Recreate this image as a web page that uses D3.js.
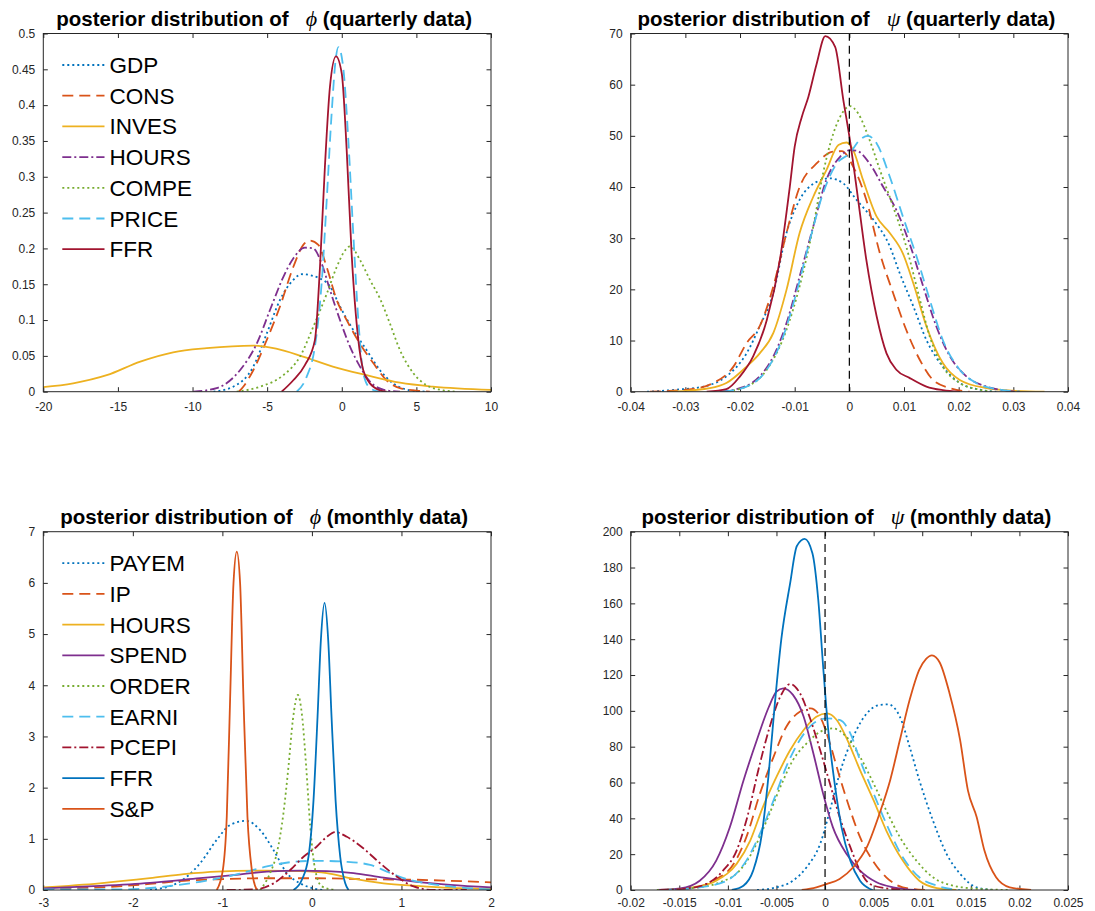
<!DOCTYPE html>
<html>
<head>
<meta charset="utf-8">
<script src="https://cdn.jsdelivr.net/npm/d3@7"></script>
<style>
  html, body { margin: 0; padding: 0; background: #fff; }
  svg { display: block; }
</style>
</head>
<body>
<div id="chart"></div>
<script>
// ---------- posterior densities, phi, quarterly data ----------
const phiQ_GDP = [[-8.6,0],[-7.27,0.007],[-5.93,0.035],[-5.03,0.081],[-4.14,0.128],[-3.25,0.156],[-2.69,0.164],[-1.46,0.158],[-0.79,0.147],[-0.12,0.119],[0.77,0.086],[1.67,0.058],[2.56,0.03],[3.45,0.0116],[4.57,0.002],[5.7,0]];
const phiQ_CONS = [[-6.9,0],[-6.6,0.007],[-5.93,0.03],[-5.03,0.072],[-4.14,0.119],[-3.25,0.174],[-2.58,0.205],[-2.13,0.211],[-1.57,0.205],[-1.01,0.174],[-0.34,0.128],[0.33,0.1],[1.22,0.067],[2.11,0.04],[3.0,0.016],[3.9,0.005],[5.2,0.001],[5.9,0]];
const phiQ_INVES = [[-20.2,0.006],[-18.0,0.0117],[-15.75,0.023],[-13.5,0.042],[-11.3,0.055],[-9.05,0.0607],[-5.9,0.0643],[-4.4,0.06],[-2.6,0.049],[-0.6,0.035],[1.67,0.023],[3.9,0.0126],[6.1,0.007],[10.2,0.0023]];
const phiQ_HOURS = [[-9.95,0],[-8.39,0.005],[-6.82,0.03],[-5.7,0.067],[-4.81,0.114],[-3.92,0.16],[-3.25,0.186],[-2.47,0.201],[-1.91,0.2],[-1.35,0.179],[-0.79,0.142],[-0.12,0.1],[0.55,0.063],[1.22,0.035],[1.89,0.014],[2.78,0.003],[3.9,0]];
const phiQ_COMPE = [[-7.04,0],[-5.48,0.007],[-3.92,0.023],[-2.8,0.049],[-1.9,0.091],[-1.0,0.137],[-0.34,0.174],[0.25,0.198],[0.55,0.203],[1.22,0.184],[1.89,0.156],[2.56,0.13],[3.23,0.095],[3.9,0.058],[4.79,0.026],[5.69,0.009],[6.8,0.002],[7.7,0]];
const phiQ_PRICE = [[-3.02,0],[-2.35,0.021],[-1.8,0.063],[-1.35,0.151],[-1.01,0.267],[-0.68,0.388],[-0.4,0.465],[-0.23,0.481],[0.1,0.452],[0.44,0.351],[0.77,0.221],[1.11,0.1],[1.44,0.026],[1.89,0.005],[2.56,0]];
const phiQ_FFR = [[-4.03,0],[-3.25,0.016],[-2.47,0.037],[-1.8,0.072],[-1.46,0.174],[-1.13,0.314],[-0.79,0.426],[-0.39,0.468],[0.0,0.444],[0.33,0.337],[0.66,0.193],[1.11,0.072],[1.44,0.03],[1.89,0.0116],[2.56,0.002],[3.0,0]];

// ---------- posterior densities, psi, quarterly data ----------
const psiQ_GDP = [[-0.037,0],[-0.0316,0.4],[-0.0267,1],[-0.0225,3],[-0.0188,7.5],[-0.0164,12.8],[-0.0139,19.3],[-0.0115,31],[-0.0091,37.5],[-0.006,41],[-0.0036,41.7],[-0.0011,40.7],[0.0013,37.5],[0.0044,33.6],[0.0074,28.4],[0.0092,23.2],[0.0117,16.7],[0.0141,10.1],[0.0171,4.9],[0.0202,1.7],[0.0238,0.4],[0.0269,0]];
const psiQ_CONS = [[-0.0365,0],[-0.0297,0.4],[-0.0249,1.7],[-0.0212,4.9],[-0.0188,9.5],[-0.0164,12.8],[-0.0139,20.6],[-0.0115,31],[-0.0091,40],[-0.006,44.6],[-0.003,46.9],[-0.0014,47],[0.0007,44],[0.0031,37.5],[0.0056,27],[0.008,19.3],[0.0104,12.1],[0.0129,6.2],[0.0153,2.3],[0.0184,0.7],[0.022,0]];
const psiQ_INVES = [[-0.0328,0],[-0.0255,0.7],[-0.0225,1.7],[-0.0188,4.9],[-0.0164,7.5],[-0.0139,11.5],[-0.0115,19.9],[-0.0091,31],[-0.0066,38.1],[-0.0042,43.3],[-0.002,48.2],[-0.0005,48.7],[0.0007,47.2],[0.0025,41.4],[0.005,34.2],[0.0074,31],[0.0098,27],[0.0117,21.2],[0.0141,12.8],[0.0171,5.6],[0.0202,2.3],[0.0251,0.7],[0.03,0.2],[0.0357,0]];
const psiQ_HOURS = [[-0.0237,0],[-0.02,0.7],[-0.0164,3],[-0.0139,6.9],[-0.0115,13.4],[-0.0091,22.5],[-0.0066,32.3],[-0.0042,41.4],[-0.0017,45.9],[0.0001,47.2],[0.0013,47.1],[0.0037,44.6],[0.0062,40],[0.0086,35.5],[0.011,29],[0.0135,20.6],[0.0159,12.8],[0.0184,6.9],[0.0214,3],[0.0251,1],[0.0281,0.3],[0.0312,0]];
const psiQ_COMPE = [[-0.0231,0],[-0.0188,1],[-0.0151,4.3],[-0.0115,12.1],[-0.0091,20.6],[-0.0066,32.3],[-0.0048,42.7],[-0.0033,49.2],[-0.0017,53.7],[0.0001,55.8],[0.0016,54.4],[0.0037,49.2],[0.0056,43.3],[0.008,36.2],[0.0104,28.4],[0.0129,18],[0.0147,10.8],[0.0171,4.9],[0.0202,1.7],[0.0238,0.4],[0.0263,0]];
const psiQ_PRICE = [[-0.0231,0],[-0.0188,1],[-0.0151,4.3],[-0.0121,10.8],[-0.0097,19.3],[-0.0072,29.7],[-0.0048,38.8],[-0.0023,44.6],[0.0001,46.6],[0.0019,49.2],[0.0034,50],[0.005,48.5],[0.0074,42],[0.0098,34.2],[0.0123,26.4],[0.0147,18],[0.0171,10.1],[0.0202,4.3],[0.0232,1.7],[0.0275,0.4],[0.0312,0]];
const psiQ_FFR = [[-0.0261,0],[-0.0225,0.5],[-0.02,3],[-0.0176,6.9],[-0.0151,14],[-0.0127,25.8],[-0.0109,40],[-0.01,47.9],[-0.0087,53.7],[-0.0075,57.6],[-0.006,64],[-0.0044,69.5],[-0.0026,67.4],[-0.0011,57],[0.0001,49.2],[0.0013,40],[0.0031,25.8],[0.005,14.7],[0.0068,7.5],[0.0086,4.3],[0.011,2.7],[0.0141,1],[0.0171,0.3],[0.0202,0]];

// ---------- posterior densities, phi, monthly data ----------
const phiM_PAYEM = [[-1.808,0],[-1.51,0.13],[-1.25,0.52],[-1.063,0.98],[-0.914,1.27],[-0.734,1.35],[-0.578,1.17],[-0.429,0.78],[-0.28,0.33],[-0.131,0.13],[0.018,0.03],[0.13,0]];
const phiM_IP = [[-3,0.03],[-2.37,0.05],[-1.81,0.12],[-1.43,0.18],[-1.063,0.21],[-0.503,0.23],[0.055,0.23],[0.614,0.21],[1.173,0.2],[1.546,0.18],[2,0.15]];
const phiM_HOURS = [[-3,0.05],[-2.37,0.13],[-1.81,0.23],[-1.43,0.31],[-1.063,0.36],[-0.503,0.38],[-0.131,0.37],[0.167,0.33],[0.428,0.23],[0.8,0.13],[1.17,0.08],[1.546,0.04],[2,0.02]];
const phiM_SPEND = [[-3,0.03],[-2.37,0.08],[-1.81,0.14],[-1.25,0.23],[-0.876,0.29],[-0.503,0.36],[-0.131,0.38],[0.167,0.37],[0.465,0.33],[0.8,0.24],[1.17,0.16],[1.546,0.1],[2,0.05]];
const phiM_ORDER = [[-0.579,0],[-0.467,0.33],[-0.392,0.72],[-0.318,1.5],[-0.262,2.41],[-0.213,3.32],[-0.157,3.81],[-0.113,3.45],[-0.064,2.41],[-0.019,1.24],[0.037,0.39],[0.111,0.07],[0.26,0]];
const phiM_EARNI = [[-3,0.01],[-2.18,0.01],[-1.62,0.07],[-1.25,0.16],[-0.876,0.29],[-0.503,0.46],[-0.205,0.55],[0.055,0.57],[0.39,0.55],[0.651,0.49],[0.837,0.36],[1.024,0.23],[1.285,0.13],[1.657,0.05],[2,0.01]];
const phiM_PCEPI = [[-0.951,0],[-0.653,0.01],[-0.429,0.13],[-0.243,0.39],[-0.094,0.65],[0.055,0.85],[0.167,1.04],[0.26,1.13],[0.39,1.04],[0.577,0.81],[0.763,0.52],[0.949,0.26],[1.135,0.07],[1.359,0],[1.73,0]];
const phiM_FFR = [[-0.206,0],[-0.112,0.2],[-0.038,0.65],[0.018,1.76],[0.063,3.39],[0.1,4.88],[0.141,5.61],[0.182,4.88],[0.219,3.39],[0.264,1.76],[0.316,0.65],[0.372,0.13],[0.409,0]];
const phiM_SP = [[-1.063,0],[-0.995,0.39],[-0.951,1.43],[-0.914,3.71],[-0.876,5.99],[-0.839,6.61],[-0.802,5.99],[-0.764,3.71],[-0.72,1.43],[-0.671,0.39],[-0.616,0]];

// ---------- posterior densities, psi, monthly data ----------
const psiM_PAYEM = [[-0.007,0],[-0.005,1.5],[-0.0033,5.2],[-0.0019,12.7],[-0.0005,25.8],[0.0005,44.4],[0.0015,65],[0.0029,85.5],[0.0043,98.6],[0.0056,103.3],[0.0065,103.6],[0.0077,96.7],[0.0087,80],[0.0097,61.3],[0.0111,38.8],[0.0125,20.2],[0.0139,9],[0.0156,1.5],[0.0173,0]];
const psiM_IP = [[-0.0166,0],[-0.0136,1.1],[-0.0115,5.2],[-0.0094,14.6],[-0.0081,29.5],[-0.0067,53.8],[-0.0053,74.3],[-0.004,91],[-0.0026,99.5],[-0.0015,101.4],[-0.0005,96.7],[0.0005,81.8],[0.0015,63.1],[0.0026,44.4],[0.0036,29.5],[0.0049,16.4],[0.0063,7.1],[0.008,1.5],[0.0104,0]];
const psiM_HOURS = [[-0.017,0],[-0.0136,1.5],[-0.0112,5.2],[-0.0091,14.6],[-0.0077,27.6],[-0.0064,46.3],[-0.005,63.1],[-0.0036,78],[-0.0022,89.3],[-0.0009,96.7],[0.0002,98.6],[0.0012,94.9],[0.0023,83.7],[0.0036,66.9],[0.005,50],[0.0063,33.2],[0.008,16.4],[0.0097,5.2],[0.0115,1.1],[0.0135,0]];
const psiM_SPEND = [[-0.0173,0],[-0.0149,0.9],[-0.0129,5.2],[-0.0112,16.4],[-0.0098,35],[-0.0084,61],[-0.007,84],[-0.0058,102],[-0.005,110.7],[-0.0043,112.6],[-0.0033,108.9],[-0.0022,96.7],[-0.0012,76.2],[-0.0002,53.8],[0.0008,35.1],[0.0022,20.2],[0.0036,10.8],[0.0053,4.3],[0.007,1.5],[0.0094,0]];
const psiM_ORDER = [[-0.0173,0],[-0.0136,1.1],[-0.0108,4.3],[-0.0088,10.8],[-0.0074,22],[-0.006,38.8],[-0.0046,57.5],[-0.0033,72.5],[-0.0019,81.8],[-0.0005,88.3],[0.0008,90.2],[0.0022,85.5],[0.0036,74.3],[0.005,59.4],[0.0063,44.4],[0.0077,29.5],[0.0094,16.4],[0.0111,7.1],[0.0132,2.4],[0.0159,0.6],[0.019,0]];
const psiM_EARNI = [[-0.0166,0],[-0.0129,1.5],[-0.0101,5.2],[-0.0081,16.4],[-0.0067,31.4],[-0.0053,50],[-0.004,68.7],[-0.0026,83.7],[-0.0012,93],[0.0002,95.8],[0.0015,94.9],[0.0026,87.4],[0.0036,72.5],[0.005,53.8],[0.0063,37],[0.008,18.3],[0.0097,7.1],[0.0115,2.4],[0.0139,0]];
const psiM_PCEPI = [[-0.017,0],[-0.0142,0.9],[-0.0122,3.4],[-0.0105,10.8],[-0.0091,22],[-0.0081,38.8],[-0.0067,70.6],[-0.0057,91],[-0.0046,108],[-0.0036,115],[-0.0026,110],[-0.0016,96.7],[-0.0005,78],[0.0005,59.4],[0.0015,40.7],[0.0026,23.9],[0.0036,10.8],[0.0046,3.4],[0.0063,0.9],[0.0087,0]];
const psiM_FFR = [[-0.0096,0],[-0.0084,2.4],[-0.0074,10.8],[-0.0065,31.4],[-0.0058,65],[-0.0052,102],[-0.0045,140],[-0.0036,171],[-0.0029,192],[-0.0021,196],[-0.0013,188],[-0.0007,162],[-0.0002,125],[0.0003,91],[0.001,59],[0.0017,35],[0.0026,16.4],[0.0036,5.2],[0.0049,0]];
const psiM_SP = [[-0.0024,0],[-0.0009,1.5],[0.0002,3.4],[0.0015,6.2],[0.0029,12.7],[0.0043,23.9],[0.0056,42.6],[0.0067,61.3],[0.0077,83.7],[0.0087,106],[0.0097,123],[0.0104,129],[0.011,131],[0.0118,127],[0.0128,110],[0.0139,83.7],[0.0147,55.6],[0.0156,40.7],[0.0164,22],[0.0176,7.1],[0.019,1.5],[0.0212,0]];

// ---------- series names ----------
const quarterlyNames = ["GDP", "CONS", "INVES", "HOURS", "COMPE", "PRICE", "FFR"];
const monthlyNames = ["PAYEM", "IP", "HOURS", "SPEND", "ORDER", "EARNI", "PCEPI", "FFR", "S&P"];

// ---------- tick values ----------
const phiQTicksX = [-20, -15, -10, -5, 0, 5, 10];
const phiQTicksY = [0, 0.05, 0.1, 0.15, 0.2, 0.25, 0.3, 0.35, 0.4, 0.45, 0.5];
const psiQTicksX = [-0.04, -0.03, -0.02, -0.01, 0, 0.01, 0.02, 0.03, 0.04];
const psiQTicksY = [0, 10, 20, 30, 40, 50, 60, 70];
const phiMTicksX = [-3, -2, -1, 0, 1, 2];
const phiMTicksY = [0, 1, 2, 3, 4, 5, 6, 7];
const psiMTicksX = [-0.02, -0.015, -0.01, -0.005, 0, 0.005, 0.01, 0.015, 0.02, 0.025];
const psiMTicksY = [0, 20, 40, 60, 80, 100, 120, 140, 160, 180, 200];

// ---------- line styles (MATLAB default palette) ----------
const C = {
  blue: "#0072BD", orange: "#D95319", yellow: "#EDB120", purple: "#7E2F8E",
  green: "#77AC30", cyan: "#4DBEEE", maroon: "#A2142F"
};
const DASH = { solid: null, dot: "2,3", dash: "11,6", dashdot: "9,3,2,3" };

const quarterlyStyle = [
  [C.blue, "dot"], [C.orange, "dash"], [C.yellow, "solid"], [C.purple, "dashdot"],
  [C.green, "dot"], [C.cyan, "dash"], [C.maroon, "solid"]
];
const monthlyStyle = [
  [C.blue, "dot"], [C.orange, "dash"], [C.yellow, "solid"], [C.purple, "solid"],
  [C.green, "dot"], [C.cyan, "dash"], [C.maroon, "dashdot"], [C.blue, "solid"], [C.orange, "solid"]
];

const panels = [
  { sym: "ϕ", freq: "quarterly data", x0: 43.3, x1: 491, y0: 33.5, y1: 391.7, xPad: 11,
    xDom: [-20, 10], yDom: [0, 0.5], ticksX: phiQTicksX, ticksY: phiQTicksY,
    series: [phiQ_GDP, phiQ_CONS, phiQ_INVES, phiQ_HOURS, phiQ_COMPE, phiQ_PRICE, phiQ_FFR],
    names: quarterlyNames, styles: quarterlyStyle, legend: true, zeroLine: false },
  { sym: "ψ", freq: "quarterly data", x0: 630.7, x1: 1068, y0: 33.5, y1: 391.7, xPad: 11,
    xDom: [-0.04, 0.04], yDom: [0, 70], ticksX: psiQTicksX, ticksY: psiQTicksY,
    series: [psiQ_GDP, psiQ_CONS, psiQ_INVES, psiQ_HOURS, psiQ_COMPE, psiQ_PRICE, psiQ_FFR],
    names: quarterlyNames, styles: quarterlyStyle, legend: false, zeroLine: true },
  { sym: "ϕ", freq: "monthly data", x0: 43.3, x1: 491, y0: 531.7, y1: 890, xPad: 8.5,
    xDom: [-3, 2], yDom: [0, 7], ticksX: phiMTicksX, ticksY: phiMTicksY,
    series: [phiM_PAYEM, phiM_IP, phiM_HOURS, phiM_SPEND, phiM_ORDER, phiM_EARNI, phiM_PCEPI, phiM_FFR, phiM_SP],
    names: monthlyNames, styles: monthlyStyle, legend: true, zeroLine: false },
  { sym: "ψ", freq: "monthly data", x0: 630.7, x1: 1068, y0: 531.7, y1: 890, xPad: 8.5,
    xDom: [-0.02, 0.025], yDom: [0, 200], ticksX: psiMTicksX, ticksY: psiMTicksY,
    series: [psiM_PAYEM, psiM_IP, psiM_HOURS, psiM_SPEND, psiM_ORDER, psiM_EARNI, psiM_PCEPI, psiM_FFR, psiM_SP],
    names: monthlyNames, styles: monthlyStyle, legend: false, zeroLine: true }
];

const W = 1095, H = 911;
const AXIS_COLOR = "#262626";
const TICK = 4.5;
const fmt = v => String(+v.toFixed(4));

const svg = d3.select("#chart").append("svg")
  .attr("width", W).attr("height", H)
  .attr("viewBox", `0 0 ${W} ${H}`)
  .style("font-family", "'Liberation Sans', Arial, Helvetica, sans-serif");

panels.forEach((p, pi) => {
  const x = d3.scaleLinear().domain(p.xDom).range([p.x0, p.x1]);
  const y = d3.scaleLinear().domain(p.yDom).range([p.y1, p.y0]);
  const g = svg.append("g");

  // clip region for the density curves
  const clipId = `clip-${pi}`;
  svg.append("clipPath").attr("id", clipId)
    .append("rect").attr("x", p.x0).attr("y", p.y0)
    .attr("width", p.x1 - p.x0).attr("height", p.y1 - p.y0);

  // axes: labelled bottom/left, mirrored inward ticks on top/right
  const styleAxis = sel => {
    sel.select(".domain").remove();
    sel.selectAll(".tick line").attr("stroke", AXIS_COLOR).attr("stroke-width", 1);
    sel.selectAll(".tick text").attr("fill", AXIS_COLOR).style("font-size", "12px");
  };
  g.append("g").attr("transform", `translate(0,${p.y1})`)
    .call(d3.axisBottom(x).tickValues(p.ticksX).tickFormat(fmt).tickSizeInner(-TICK).tickSizeOuter(0).tickPadding(p.xPad))
    .call(styleAxis);
  g.append("g").attr("transform", `translate(${p.x0},0)`)
    .call(d3.axisLeft(y).tickValues(p.ticksY).tickFormat(fmt).tickSizeInner(-TICK).tickSizeOuter(0).tickPadding(8))
    .call(styleAxis);
  g.append("g").attr("transform", `translate(0,${p.y0})`)
    .call(d3.axisTop(x).tickValues(p.ticksX).tickFormat("").tickSizeInner(-TICK).tickSizeOuter(0))
    .call(styleAxis);
  g.append("g").attr("transform", `translate(${p.x1},0)`)
    .call(d3.axisRight(y).tickValues(p.ticksY).tickFormat("").tickSizeInner(-TICK).tickSizeOuter(0))
    .call(styleAxis);

  // density curves
  const line = d3.line().x(d => x(d[0])).y(d => y(d[1])).curve(d3.curveMonotoneX);
  const curves = g.append("g").attr("clip-path", `url(#${clipId})`);
  p.series.forEach((s, i) => {
    const [col, dash] = p.styles[i];
    curves.append("path").datum(s)
      .attr("d", line)
      .attr("fill", "none")
      .attr("stroke", col)
      .attr("stroke-width", 1.8)
      .attr("stroke-linejoin", "round")
      .attr("stroke-dasharray", DASH[dash]);
  });

  // vertical reference line at zero
  if (p.zeroLine) {
    g.append("line")
      .attr("x1", x(0)).attr("x2", x(0))
      .attr("y1", y(p.yDom[0])).attr("y2", y(p.yDom[1]))
      .attr("stroke", "#000").attr("stroke-width", 1.2)
      .attr("stroke-dasharray", "8,5");
  }

  // axes box
  g.append("rect")
    .attr("x", p.x0).attr("y", p.y0)
    .attr("width", p.x1 - p.x0).attr("height", p.y1 - p.y0)
    .attr("fill", "none").attr("stroke", AXIS_COLOR).attr("stroke-width", 1);

  // title
  const cx = (p.x0 + p.x1) / 2 - 3;
  const t = g.append("text")
    .attr("x", cx).attr("y", p.y0 - 8)
    .attr("text-anchor", "middle")
    .style("font-size", "20.5px").style("font-weight", "bold").attr("fill", "#000");
  t.append("tspan").text("posterior distribution of");
  t.append("tspan").attr("dx", 17)
    .style("font-family", "'Liberation Serif', 'DejaVu Serif', serif")
    .style("font-style", "italic").style("font-weight", "normal").style("font-size", "22px")
    .text(p.sym);
  t.append("tspan").text(` (${p.freq})`);

  // legend
  if (p.legend) {
    const lg = g.append("g");
    p.names.forEach((n, i) => {
      const [col, dash] = p.styles[i];
      const ly = p.y0 + 31.5 + i * 30.7;
      lg.append("line")
        .attr("x1", 62.3).attr("x2", 104.5).attr("y1", ly).attr("y2", ly)
        .attr("stroke", col).attr("stroke-width", 1.8)
        .attr("stroke-dasharray", DASH[dash]);
      lg.append("text")
        .attr("x", 109.5).attr("y", ly + 8)
        .style("font-size", "22.5px").attr("fill", "#000")
        .text(n);
    });
  }
});
</script>
</body>
</html>
